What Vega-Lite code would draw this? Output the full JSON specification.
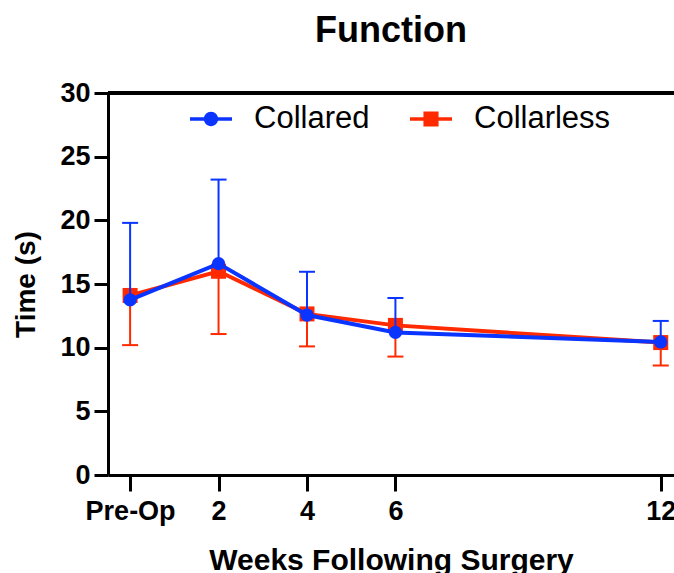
{
  "$schema": "https://vega.github.io/schema/vega-lite/v6.json",
  "autosize": {"type": "none"},
  "padding": {"left": 108, "top": 93, "right": 0, "bottom": 98},
  "width": 566,
  "height": 382,
  "background": "white",
  "config": {
    "view": {"stroke": null},
    "font": "Liberation Sans",
    "axis": {
      "grid": false,
      "domainColor": "black",
      "domainWidth": 3,
      "tickColor": "black",
      "tickWidth": 3,
      "labelFont": "Liberation Sans",
      "labelFontWeight": "bold",
      "labelColor": "black",
      "titleFont": "Liberation Sans",
      "titleFontWeight": "bold",
      "titleColor": "black"
    }
  },
  "title": {
    "text": "Function",
    "font": "Liberation Sans",
    "fontSize": 36,
    "fontWeight": "bold",
    "color": "black",
    "anchor": "middle",
    "offset": 29
  },
  "data": {
    "values": [
      {"week": 0, "series": "Collared", "mean": 13.75, "err": 19.8},
      {"week": 2, "series": "Collared", "mean": 16.6, "err": 23.2},
      {"week": 4, "series": "Collared", "mean": 12.56, "err": 15.96},
      {"week": 6, "series": "Collared", "mean": 11.2, "err": 13.9},
      {"week": 12, "series": "Collared", "mean": 10.45, "err": 12.1},
      {"week": 0, "series": "Collarless", "mean": 14.1, "err": 10.2},
      {"week": 2, "series": "Collarless", "mean": 16.0, "err": 11.07},
      {"week": 4, "series": "Collarless", "mean": 12.65, "err": 10.1},
      {"week": 6, "series": "Collarless", "mean": 11.75, "err": 9.3},
      {"week": 12, "series": "Collarless", "mean": 10.4, "err": 8.6}
    ]
  },
  "encoding": {
    "x": {
      "field": "week",
      "type": "quantitative",
      "scale": {"domain": [-0.5, 12.3], "nice": false, "zero": false},
      "axis": {
        "values": [0, 2, 4, 6, 12],
        "labelExpr": "datum.value === 0 ? 'Pre-Op' : datum.label",
        "labelFontSize": 27,
        "labelPadding": 7,
        "tickSize": 16,
        "title": "Weeks Following Surgery",
        "titleFontSize": 30,
        "titlePadding": 21
      }
    },
    "y": {
      "field": "mean",
      "type": "quantitative",
      "scale": {"domain": [0, 30], "nice": false},
      "axis": {
        "values": [0, 5, 10, 15, 20, 25, 30],
        "labelFontSize": 27,
        "labelPadding": 4,
        "tickSize": 14,
        "title": "Time (s)",
        "titleFontSize": 28,
        "titlePadding": 19
      }
    },
    "color": {
      "field": "series",
      "type": "nominal",
      "scale": {"domain": ["Collared", "Collarless"], "range": ["#0a34ff", "#ff2a00"]},
      "legend": {
        "title": null,
        "orient": "none",
        "direction": "horizontal",
        "legendX": 82,
        "legendY": 5,
        "labelFont": "Liberation Sans",
        "labelFontSize": 31,
        "labelColor": "black",
        "labelOffset": 22,
        "columnPadding": 40,
        "symbolSize": 1764,
        "symbolStrokeWidth": 0,
        "symbolOpacity": 1,
        "encode": {
          "symbols": {
            "update": {
              "shape": {"signal": "datum.value === 'Collared' ? 'M-1,-0.08H1V0.08H-1Z M-0.34,0A0.34,0.34 0 1,1 0.34,0A0.34,0.34 0 1,1 -0.34,0Z' : 'M-1,-0.08H1V0.08H-1Z M-0.36,-0.36H0.36V0.36H-0.36Z'"},
              "fill": {"signal": "datum.value === 'Collared' ? '#0a34ff' : '#ff2a00'"},
              "stroke": {"value": "transparent"},
              "opacity": {"value": 1}
            }
          }
        }
      }
    }
  },
  "layer": [
    {
      "mark": {"type": "rule", "color": "black", "strokeWidth": 3},
      "encoding": {"y": {"datum": 30}, "x": null, "color": null}
    },
    {
      "transform": [{"filter": "datum.series === 'Collarless'"}],
      "mark": {"type": "rule", "strokeWidth": 2},
      "encoding": {"y2": {"field": "err"}}
    },
    {
      "transform": [{"filter": "datum.series === 'Collarless'"}],
      "mark": {"type": "tick", "orient": "horizontal", "size": 16, "thickness": 2, "opacity": 1},
      "encoding": {"y": {"field": "err", "type": "quantitative"}}
    },
    {
      "transform": [{"filter": "datum.series === 'Collarless'"}],
      "mark": {"type": "line", "strokeWidth": 4}
    },
    {
      "transform": [{"filter": "datum.series === 'Collarless'"}],
      "mark": {"type": "point", "shape": "square", "filled": true, "size": 225, "opacity": 1}
    },
    {
      "transform": [{"filter": "datum.series === 'Collared'"}],
      "mark": {"type": "rule", "strokeWidth": 2},
      "encoding": {"y2": {"field": "err"}}
    },
    {
      "transform": [{"filter": "datum.series === 'Collared'"}],
      "mark": {"type": "tick", "orient": "horizontal", "size": 16, "thickness": 2, "opacity": 1},
      "encoding": {"y": {"field": "err", "type": "quantitative"}}
    },
    {
      "transform": [{"filter": "datum.series === 'Collared'"}],
      "mark": {"type": "line", "strokeWidth": 4}
    },
    {
      "transform": [{"filter": "datum.series === 'Collared'"}],
      "mark": {"type": "point", "shape": "circle", "filled": true, "size": 177, "opacity": 1}
    }
  ]
}
